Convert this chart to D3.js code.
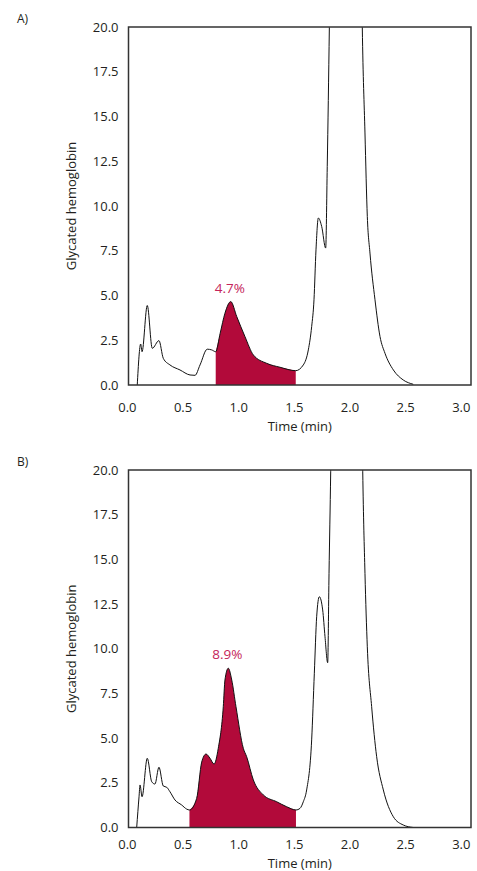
<!DOCTYPE html>
<html>
<head>
<meta charset="utf-8">
<script src="https://cdn.jsdelivr.net/npm/d3@7"></script>
<style>
  body { margin: 0; background: #fff; }
  svg text { font-family: "Open Sans", "Noto Sans", sans-serif; fill: #231f20; }
</style>
</head>
<body>
<svg id="chart" width="477" height="871"></svg>
<script>
// chromatogram A
var timesA = [0.093, 0.124, 0.136, 0.183, 0.228, 0.288, 0.327, 0.387, 0.477, 0.567, 0.612, 0.657, 0.722, 0.762, 0.798, 0.838, 0.881, 0.933, 0.987, 1.061, 1.136, 1.256, 1.376, 1.517, 1.585, 1.63, 1.66, 1.681, 1.699, 1.72, 1.75, 1.786, 1.80, 1.819, 1.84, 2.095, 2.115, 2.139, 2.16, 2.184, 2.229, 2.274, 2.319, 2.394, 2.483, 2.573]
var valuesA = [0, 2.29, 1.86, 4.44, 2.05, 2.48, 1.49, 1.12, 0.84, 0.56, 0.54, 1.12, 2.0, 1.96, 1.86, 2.89, 4.01, 4.66, 3.82, 2.70, 1.68, 1.21, 0.99, 0.80, 1.12, 1.96, 3.26, 4.76, 7.55, 9.33, 8.86, 7.65, 12.2, 19.96, 30, 30, 19.96, 14.08, 9.42, 7.37, 4.76, 2.71, 1.77, 0.84, 0.28, 0.04]
var fillRangeA = [0.798, 1.517]
var labelA = "4.7%"

// chromatogram B
var timesB = [0.088, 0.109, 0.118, 0.136, 0.183, 0.223, 0.252, 0.288, 0.327, 0.358, 0.387, 0.432, 0.492, 0.537, 0.562, 0.627, 0.672, 0.711, 0.747, 0.783, 0.821, 0.866, 0.881, 0.911, 0.942, 0.980, 1.046, 1.076, 1.136, 1.226, 1.346, 1.436, 1.519, 1.555, 1.585, 1.615, 1.66, 1.684, 1.705, 1.729, 1.759, 1.78, 1.804, 1.816, 1.831, 1.85, 2.10, 2.119, 2.139, 2.16, 2.199, 2.244, 2.304, 2.394, 2.483, 2.573]
var valuesB = [0, 1.72, 2.38, 1.72, 3.87, 2.56, 2.43, 3.37, 2.32, 2.25, 2.0, 1.54, 1.26, 1.03, 0.98, 1.63, 3.66, 4.11, 3.87, 3.55, 4.43, 6.76, 8.25, 8.91, 8.25, 6.76, 4.43, 3.96, 2.66, 1.82, 1.44, 1.16, 0.98, 1.07, 1.44, 2.10, 4.9, 8.63, 11.79, 12.91, 12.17, 10.67, 9.22, 14.22, 19.9, 30, 30, 19.9, 14.22, 10.11, 6.76, 3.96, 2.10, 0.60, 0.14, 0]
var fillRangeB = [0.562, 1.519]
var labelB = "8.9%"

var xTicks = [0, 0.5, 1.0, 1.5, 2.0, 2.5, 3.0]
var yTicks = [0, 2.5, 5, 7.5, 10, 12.5, 15, 17.5, 20]
var xTitle = "Time (min)"
var yTitle = "Glycated hemoglobin"

var fontSize = 13
var svg = d3.select("#chart")

function drawPanel(opts){
    var g = svg.append("g")
    var x = d3.scaleLinear().domain([0,3]).range([126.9, 460.8])
    var y = d3.scaleLinear().domain([0,20]).range([opts.bottom, opts.top])
    var left = 128.5, right = 471

    var pts = d3.zip(opts.times, opts.values)

    g.append("clipPath").attr("id","clip"+opts.id)
        .append("rect")
        .attr("x",left).attr("y",opts.top)
        .attr("width",right-left).attr("height",opts.bottom-opts.top)

    // shaded HbA1c peak
    var area = d3.area()
        .x(function(d){ return x(d[0]) })
        .y0(y(0))
        .y1(function(d){ return y(d[1]) })
        .curve(d3.curveMonotoneX)
    var inFill = pts.filter(function(d){ return d[0]>=opts.fill[0] && d[0]<=opts.fill[1] })
    g.append("path")
        .datum(inFill)
        .attr("d",area)
        .attr("fill","#b20a3a")
        .attr("clip-path","url(#clip"+opts.id+")")

    var line = d3.line()
        .x(function(d){ return x(d[0]) })
        .y(function(d){ return y(d[1]) })
        .curve(d3.curveMonotoneX)
    g.append("path")
        .datum(pts)
        .attr("d",line)
        .attr("fill","none")
        .attr("stroke","#111")
        .attr("stroke-width",1)
        .attr("clip-path","url(#clip"+opts.id+")")

    // frame
    g.append("rect")
        .attr("x",left).attr("y",opts.top)
        .attr("width",right-left).attr("height",opts.bottom-opts.top)
        .attr("fill","none").attr("stroke","#333").attr("stroke-width",1.5)

    var yAxis = d3.axisLeft(y).tickValues(yTicks).tickSize(0).tickPadding(10)
                .tickFormat(d3.format(".1f"))
    g.append("g").attr("transform","translate("+left+",0)").call(yAxis)
        .call(function(s){ s.select(".domain").remove() })
        .selectAll("text").style("font-size",fontSize+"px").attr("fill","#231f20")

    var xAxis = d3.axisBottom(x).tickValues(xTicks).tickSize(0).tickPadding(opts.xPad)
                .tickFormat(d3.format(".1f"))
    g.append("g").attr("transform","translate(0,"+opts.bottom+")").call(xAxis)
        .call(function(s){ s.select(".domain").remove() })
        .selectAll("text").style("font-size",fontSize+"px").attr("fill","#231f20")

    g.append("text")
        .attr("x",(left+right)/2).attr("y",opts.bottom+opts.titleOff)
        .attr("text-anchor","middle").style("font-size",fontSize+"px")
        .text(xTitle)

    g.append("text")
        .attr("transform","translate(76,"+((opts.top+opts.bottom)/2)+") rotate(-90)")
        .attr("text-anchor","middle").style("font-size",fontSize+"px")
        .text(yTitle)

    g.append("text")
        .attr("x",17).attr("y",opts.top-4)
        .style("font-size","12px")
        .text(opts.panel)

    // percent label over the peak
    var peak = d3.greatest(inFill, function(d){ return d[1] })
    g.append("text")
        .attr("x",x(peak[0])-1).attr("y",y(peak[1])-9)
        .attr("text-anchor","middle")
        .style("font-size","13.5px").style("fill","#c5245a")
        .text(opts.label)
}

drawPanel({id:"A", panel:"A)", times:timesA, values:valuesA, fill:fillRangeA, label:labelA,
           top:27, bottom:385, xPad:17.5, titleOff:45.5})
drawPanel({id:"B", panel:"B)", times:timesB, values:valuesB, fill:fillRangeB, label:labelB,
           top:470, bottom:827.5, xPad:12, titleOff:40})
</script>
</body>
</html>
